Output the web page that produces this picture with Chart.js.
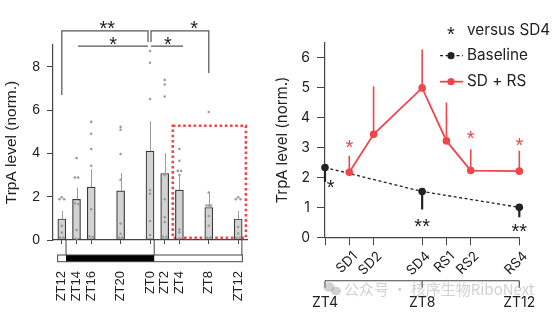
<!DOCTYPE html>
<html><head><meta charset="utf-8">
<script src="https://cdn.jsdelivr.net/npm/chart.js@4"></script>
<style>
html,body{margin:0;padding:0;background:#fff;}
#wrap{position:relative;width:554px;height:312px;overflow:hidden;}
#c1{position:absolute;left:0;top:0;}
#c2{position:absolute;left:262px;top:0;}
</style></head><body>
<div id="wrap"><canvas id="c1" width="262" height="312"></canvas><canvas id="c2" width="292" height="312"></canvas></div>
<script>
// ================= LEFT PANEL DATA =================
const leftHours  = [12, 14, 16, 20, 24, 26, 28, 32, 36];
const leftLabels = ['ZT12','ZT14','ZT16','ZT20','ZT0','ZT2','ZT4','ZT8','ZT12'];
const leftMeans  = [0.97, 1.88, 2.44, 2.27, 4.10, 3.07, 2.30, 1.50, 0.97];
const leftErrTop = [1.34, 2.42, 3.27, 3.09, 5.48, 4.01, 2.99, 2.19, 1.34];
const leftDots = [
  [1.97, 1.88, 1.88, 0.65, 0.34, 0.11, 0.11],
  [3.78, 2.88, 2.88, 1.70, 1.65, 0.46, 0.06],
  [5.45, 4.90, 4.20, 3.43, 1.42, 0.17, 0.14],
  [5.22, 5.09, 3.97, 2.78, 0.76, 0.29, 0.11, 0.11],
  [8.72, 8.18, 6.51, 2.31, 2.13, 0.88, 0.23],
  [7.39, 7.18, 6.62, 2.99, 1.88, 1.05, 0.83, 0.15, 0.15],
  [4.20, 3.66, 3.19, 3.19, 3.00, 0.49, 0.35, 0.08],
  [5.91, 2.19, 1.59, 1.59, 1.59, 1.11, 0.66, 0.11, 0.11],
  [1.97, 1.88, 1.88, 0.60, 0.30, 0.11, 0.11]
];
const leftYTicks = [0, 2, 4, 6, 8];
const darkPeriod = [12, 24];          // lights off ZT12 -> lights on ZT0
const highlightHours = [27.1, 37.05]; // red dotted box (ZT4..ZT12)
const highlightVals  = [0.1, 5.27];
// significance brackets: from/to (h), bar height, leg ends, label position
const brFrom  = [12, 24.14, 14.2, 24.14];
const brTo    = [23.73, 32, 23.73, 28.5];
const brY     = [9.65, 9.65, 8.95, 8.95];
const brLegL  = [6.69, 9.14, null, null];
const brLegR  = [9.14, 7.71, null, null];
const brText  = ['**', '*', '*', '*'];
const brTextX = [18.17, 30.0, 18.99, 26.45];

// ================= RIGHT PANEL DATA =================
const rightHours  = [5, 6, 8, 9, 10, 12];
const rightLabels = ['SD1', 'SD2', 'SD4', 'RS1', 'RS2', 'RS4'];
const sdrsMeans   = [2.17, 3.44, 4.99, 3.22, 2.23, 2.21];
const sdrsErrTop  = [2.72, 5.04, 6.27, 4.50, 2.94, 2.89];
const sdrsStarX   = [5, 10, 12];
const sdrsStarY   = [3.11, 3.41, 3.19];
const baseHours   = [4, 8, 12];
const baseLabels  = ['ZT4', 'ZT8', 'ZT12'];
const baseMeans   = [2.33, 1.53, 1.00];
const baseErrBot  = [1.85, 0.93, 0.67];
const baseStarX   = [4.23, 8, 12];
const baseStarY   = [1.77, 0.49, 0.30];
const baseStarTxt = ['*', '**', '**'];
const rightYTicks = [0, 1, 2, 3, 4, 5, 6];
const legendStarText = 'versus SD4';

const RED = '#ef454b';
const INK = '#222';
const ARIAL = '"Liberation Sans", Arial, sans-serif';
const INTER = 'Inter, "Noto Sans", sans-serif';

function drawCentered(ctx, text, cx, cy, font, color) {
  ctx.save();
  ctx.font = font; ctx.fillStyle = color;
  ctx.textAlign = 'center'; ctx.textBaseline = 'alphabetic';
  const m = ctx.measureText(text);
  ctx.fillText(text, cx, cy + (m.actualBoundingBoxAscent - m.actualBoundingBoxDescent) / 2);
  ctx.restore();
}

// jitter layout for dots with near-identical values
function spreadDots(values, center, step) {
  const sorted = values.slice().sort((a, b) => b - a);
  const out = [];
  let i = 0;
  while (i < sorted.length) {
    let j = i + 1;
    while (j < sorted.length && sorted[j - 1] - sorted[j] < 0.1) j++;
    const grp = sorted.slice(i, j);
    let offs;
    if (grp.length === 1) offs = [0];
    else if (grp.length === 2) offs = [-0.7, 0.7];
    else if (grp.length === 3) offs = [0, -1, 1];
    else offs = grp.map((_, k) => k - (grp.length - 1) / 2);
    grp.forEach((v, k) => out.push({x: center + offs[k] * step, y: v}));
    i = j;
  }
  return out;
}
const dotPoints = [];
leftDots.forEach((vals, i) => dotPoints.push(...spreadDots(vals, leftHours[i], 0.32)));

// ---------------- left plugin ----------------
const leftDecor = {
  id: 'leftDecor',
  beforeDatasetsDraw(chart) {
    const {ctx, scales: {x, y}} = chart;
    ctx.save();
    ctx.strokeStyle = RED; ctx.lineWidth = 2.6; ctx.setLineDash([2.6, 2.6]);
    const l = x.getPixelForValue(highlightHours[0]), r = x.getPixelForValue(highlightHours[1]);
    const t = y.getPixelForValue(highlightVals[1]), b = y.getPixelForValue(highlightVals[0]);
    ctx.strokeRect(l, t, r - l, b - t);
    ctx.restore();
  },
  afterDatasetDraw(chart, args) {
    if (args.index !== 0) return;
    const {ctx, scales: {x, y}} = chart;
    ctx.save();
    ctx.strokeStyle = '#9a9a9a'; ctx.lineWidth = 1;
    leftHours.forEach((h, i) => {
      const px = Math.round(x.getPixelForValue(h)) + 0.5;
      ctx.beginPath();
      ctx.moveTo(px, y.getPixelForValue(leftMeans[i]));
      ctx.lineTo(px, y.getPixelForValue(leftErrTop[i]));
      ctx.stroke();
    });
    ctx.restore();
  },
  afterDraw(chart) {
    const {ctx, chartArea, scales: {x, y}} = chart;
    const half = 4.2;
    const bot = chartArea.bottom;
    ctx.save();
    // light/dark bar
    const x0 = x.getPixelForValue(leftHours[0]) - half;
    const x1 = x.getPixelForValue(leftHours[leftHours.length - 1]) + half;
    const d0 = x.getPixelForValue(darkPeriod[0]) + half;
    const d1 = x.getPixelForValue(darkPeriod[1]) + half;
    ctx.fillStyle = '#000';
    ctx.fillRect(d0, bot + 15, d1 - d0, 6.7);
    ctx.strokeStyle = '#444'; ctx.lineWidth = 1;
    ctx.strokeRect(x0, bot + 15, x1 - x0, 6.7);
    ctx.beginPath();
    [d0, d1, x1 - 0.5].forEach(px => { ctx.moveTo(px, bot); ctx.lineTo(px, bot + 15); });
    ctx.stroke();
    // brackets
    ctx.strokeStyle = '#555'; ctx.lineWidth = 1.2;
    brFrom.forEach((f, i) => {
      const a = x.getPixelForValue(f), b = x.getPixelForValue(brTo[i]);
      const yy = y.getPixelForValue(brY[i]);
      ctx.beginPath();
      if (brLegL[i] !== null) ctx.moveTo(a, y.getPixelForValue(brLegL[i])); else ctx.moveTo(a, yy);
      ctx.lineTo(a, yy); ctx.lineTo(b, yy);
      if (brLegR[i] !== null) ctx.lineTo(b, y.getPixelForValue(brLegR[i]));
      ctx.stroke();
      drawCentered(ctx, brText[i], x.getPixelForValue(brTextX[i]), yy - 5.5, '20px ' + ARIAL, INK);
    });
    ctx.restore();
  }
};

new Chart(document.getElementById('c1'), {
  type: 'bar',
  data: {
    datasets: [{
      type: 'bar',
      data: leftHours.map((h, i) => ({x: h, y: leftMeans[i]})),
      backgroundColor: '#d3d3d3', borderColor: '#3a3a3a', borderWidth: 1.2,
      borderSkipped: false, barThickness: 8, order: 2
    }, {
      type: 'scatter',
      data: dotPoints,
      pointRadius: 1.3, pointBackgroundColor: '#9c9c9c', pointBorderWidth: 0, order: 1
    }]
  },
  options: {
    responsive: false, animation: false, events: [],
    layout: {padding: {left: 0, top: 45, right: 15, bottom: 0}},
    plugins: {legend: {display: false}, tooltip: {enabled: false}},
    scales: {
      x: {
        type: 'linear', min: 10.8, max: 37.2, offset: false,
        afterFit(s) { s.height = 72; s.paddingLeft = 0; s.paddingRight = 0; },
        afterBuildTicks(s) { s.ticks = leftHours.map(v => ({value: v})); },
        grid: {drawOnChartArea: false, tickLength: 4, color: '#444', offset: false},
        border: {color: '#444', width: 1.2},
        ticks: {
          autoSkip: false, minRotation: 90, maxRotation: 90, padding: 27,
          font: {family: ARIAL, size: 13}, color: INK,
          callback: (v, i) => leftLabels[i]
        }
      },
      y: {
        min: 0, max: 9,
        afterFit(s) { s.width = 53; s.paddingTop = 0; s.paddingBottom = 0; },
        afterBuildTicks(s) { s.ticks = leftYTicks.map(v => ({value: v})); },
        grid: {drawOnChartArea: false, tickLength: 6, color: '#444'},
        border: {color: '#444', width: 1.2},
        ticks: {padding: 7, font: {family: ARIAL, size: 14}, color: INK},
        title: {display: true, text: 'TrpA level (norm.)', font: {family: ARIAL, size: 15.5}, color: INK, padding: {top: 2.4, bottom: 0}}
      }
    }
  },
  plugins: [leftDecor]
});

// ---------------- right plugin ----------------
const rightDecor = {
  id: 'rightDecor',
  beforeDatasetsDraw(chart) {
    const {ctx, scales: {x, y}} = chart;
    ctx.save();
    ctx.strokeStyle = RED; ctx.lineWidth = 1.6;
    rightHours.forEach((h, i) => {
      const px = x.getPixelForValue(h);
      ctx.beginPath();
      ctx.moveTo(px, y.getPixelForValue(sdrsMeans[i]));
      ctx.lineTo(px, y.getPixelForValue(sdrsErrTop[i]));
      ctx.stroke();
    });
    ctx.strokeStyle = INK; ctx.lineWidth = 2.2;
    baseHours.forEach((h, i) => {
      const px = x.getPixelForValue(h);
      ctx.beginPath();
      ctx.moveTo(px, y.getPixelForValue(baseMeans[i]));
      ctx.lineTo(px, y.getPixelForValue(baseErrBot[i]));
      ctx.stroke();
    });
    ctx.restore();
  },
  afterDraw(chart) {
    const {ctx, chartArea, scales: {x, y}} = chart;
    ctx.save();
    // stars
    sdrsStarX.forEach((h, i) => drawCentered(ctx, '*', x.getPixelForValue(h), y.getPixelForValue(sdrsStarY[i]), '20px ' + ARIAL, RED));
    baseStarX.forEach((h, i) => drawCentered(ctx, baseStarTxt[i], x.getPixelForValue(h), y.getPixelForValue(baseStarY[i]), '20px ' + ARIAL, INK));
    // ZT bracket
    const by = 280.7;
    const xa = x.getPixelForValue(baseHours[0]), xb = x.getPixelForValue(baseHours[baseHours.length - 1]);
    ctx.strokeStyle = '#444'; ctx.lineWidth = 1.1;
    ctx.beginPath();
    ctx.moveTo(xa, by); ctx.lineTo(xb, by);
    baseHours.forEach(h => { const p = x.getPixelForValue(h); ctx.moveTo(p, by); ctx.lineTo(p, by + 7); });
    ctx.stroke();
    ctx.font = '14px ' + INTER; ctx.fillStyle = INK; ctx.textAlign = 'center'; ctx.textBaseline = 'middle';
    baseHours.forEach((h, i) => ctx.fillText(baseLabels[i], x.getPixelForValue(h), 302.5));
    // legend
    const lx = 189, tx = 205;
    const ds = chart.data.datasets;
    drawCentered(ctx, '*', lx, 31, '20px ' + ARIAL, INK);
    ctx.font = '15.3px ' + INTER; ctx.fillStyle = INK; ctx.textAlign = 'left'; ctx.textBaseline = 'middle';
    ctx.fillText(legendStarText, tx, 30);
    // baseline entry
    ctx.strokeStyle = INK; ctx.lineWidth = 1.3; ctx.setLineDash([3, 2.5]);
    ctx.beginPath(); ctx.moveTo(lx - 11, 55.7); ctx.lineTo(lx + 12, 55.7); ctx.stroke();
    ctx.setLineDash([]);
    ctx.fillStyle = INK; ctx.beginPath(); ctx.arc(lx, 55.7, 3.6, 0, Math.PI * 2); ctx.fill();
    ctx.fillText(ds[1].label, tx, 55.7);
    // SD+RS entry
    ctx.strokeStyle = RED; ctx.lineWidth = 1.8;
    ctx.beginPath(); ctx.moveTo(lx - 11, 81.7); ctx.lineTo(lx + 12, 81.7); ctx.stroke();
    ctx.fillStyle = RED; ctx.beginPath(); ctx.arc(lx, 81.7, 3.6, 0, Math.PI * 2); ctx.fill();
    ctx.fillStyle = INK; ctx.fillText(ds[0].label, tx, 81.7);
    // watermark
    ctx.globalAlpha = 0.45;
    ctx.fillStyle = '#9a9a9a';
    ctx.beginPath(); ctx.ellipse(67, 287, 5.5, 4.8, 0, 0, Math.PI * 2); ctx.fill();
    ctx.beginPath(); ctx.ellipse(74, 291, 5, 4.3, 0, 0, Math.PI * 2); ctx.fill();
    ctx.font = '15px "Noto Sans CJK SC", sans-serif'; ctx.textAlign = 'left';
    ctx.fillText('公众号 · 核序生物RiboNext', 82, 289);
    ctx.restore();
  }
};

new Chart(document.getElementById('c2'), {
  type: 'line',
  data: {
    datasets: [{
      label: 'SD + RS',
      data: rightHours.map((h, i) => ({x: h, y: sdrsMeans[i]})),
      borderColor: RED, backgroundColor: RED, borderWidth: 1.8,
      pointRadius: 3.8, pointBorderWidth: 0, pointBackgroundColor: RED, tension: 0, order: 0
    }, {
      label: 'Baseline',
      data: baseHours.map((h, i) => ({x: h, y: baseMeans[i]})),
      borderColor: INK, backgroundColor: INK, borderWidth: 1.3, borderDash: [3, 2.5],
      pointRadius: 3.8, pointBorderWidth: 0, pointBackgroundColor: INK, tension: 0, order: 1
    }]
  },
  options: {
    responsive: false, animation: false, events: [],
    layout: {padding: {left: 0, top: 42.7, right: 34.7, bottom: 0}},
    plugins: {legend: {display: false}, tooltip: {enabled: false}},
    clip: false,
    scales: {
      x: {
        type: 'linear', min: 4, max: 12,
        afterFit(s) { s.height = 74.7; s.paddingLeft = 0; s.paddingRight = 0; },
        afterBuildTicks(s) { s.ticks = [baseHours[0], ...rightHours].map(v => ({value: v})); },
        grid: {drawOnChartArea: false, tickLength: 8, color: '#444'},
        border: {color: '#444', width: 1.2},
        ticks: {
          autoSkip: false, minRotation: 45, maxRotation: 45, padding: 3, labelOffset: 6,
          font: {family: INTER, size: 13.5}, color: INK,
          callback: (v, i) => i === 0 ? '' : rightLabels[i - 1]
        }
      },
      y: {
        min: 0, max: 6.5,
        afterFit(s) { s.width = 63; s.paddingTop = 0; s.paddingBottom = 0; },
        afterBuildTicks(s) { s.ticks = rightYTicks.map(v => ({value: v})); },
        grid: {drawOnChartArea: false, tickLength: 8, color: '#444'},
        border: {color: '#444', width: 1.2},
        ticks: {padding: 7, font: {family: INTER, size: 14}, color: INK},
        title: {display: true, text: 'TrpA level (norm.)', font: {family: INTER, size: 15}, color: INK, padding: {top: 11, bottom: 0}}
      }
    }
  },
  plugins: [rightDecor]
});
</script>
</body></html>
